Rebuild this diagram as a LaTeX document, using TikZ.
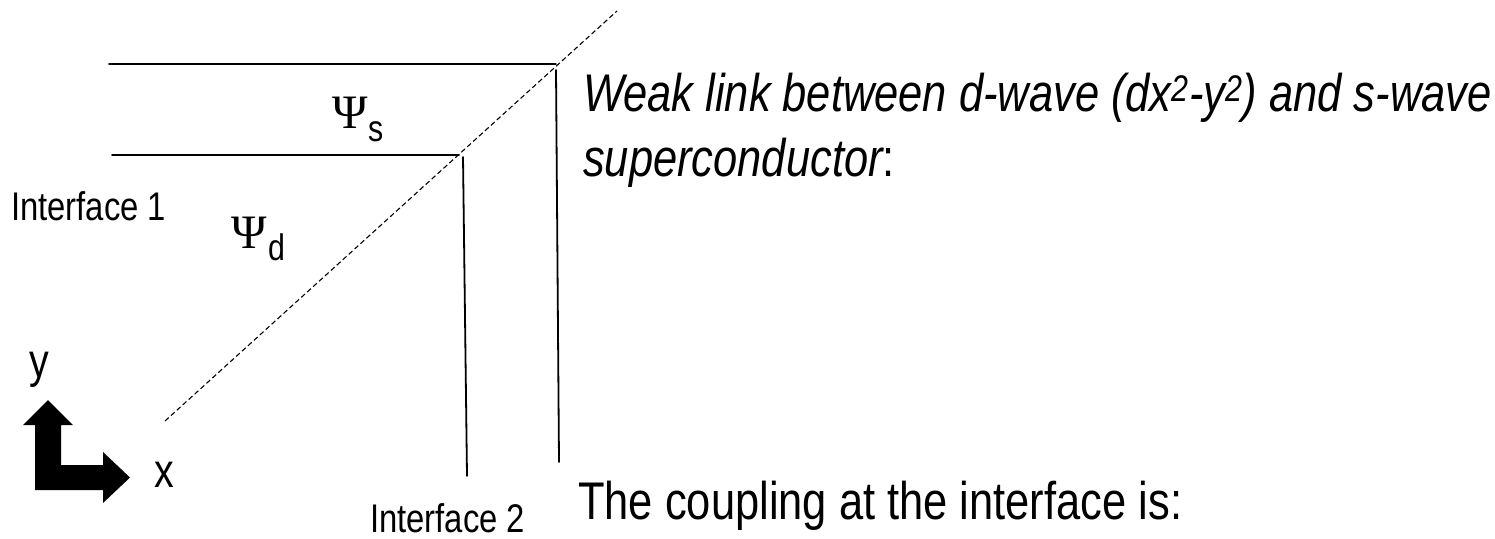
\documentclass[tikz,border=0pt]{standalone}
\usepackage{fontspec}
\setmainfont{Liberation Sans}
\newfontfamily\narrowsans[FakeStretch=0.82]{Liberation Sans}
\newfontfamily\greekserif{Liberation Serif}
\tikzset{
  boundary/.style={line width=1.8pt, line cap=round},
  junction/.style={line width=1.1pt, dash pattern=on 5pt off 3pt},
  bigtext/.style={anchor=base west, inner sep=0pt, font=\narrowsans\fontsize{53}{64}\selectfont},
  axistext/.style={anchor=base west, inner sep=0pt, font=\narrowsans\fontsize{48}{56}\selectfont},
  smalltext/.style={anchor=base west, inner sep=0pt, font=\narrowsans\fontsize{40}{48}\selectfont},
  psi/.style={anchor=base west, inner sep=0pt, font=\greekserif\fontsize{48}{52}\selectfont},
  subsc/.style={anchor=base west, inner sep=0pt, font=\narrowsans\fontsize{37}{42}\selectfont},
}
\begin{document}
\begin{tikzpicture}[x=1pt, y=-1pt]
\useasboundingbox (0,0) rectangle (1495,538);

% layer boundaries
\coordinate (t1) at (109,64);
\coordinate (t2) at (556,64);
\coordinate (m1) at (112,155);
\coordinate (m2) at (459,155);
\coordinate (v1a) at (463,157);
\coordinate (v1b) at (467,476);
\coordinate (v2a) at (556,70);
\coordinate (v2b) at (559,462);
\coordinate (da) at (165,421);
\coordinate (db) at (617,11);

\draw[boundary] (t1) -- (t2);
\draw[boundary] (m1) -- (m2);
\draw[boundary] (v1a) -- (v1b);
\draw[boundary] (v2a) -- (v2b);
\draw[junction] (da) -- (db);

% order parameters
\node[psi] (psis) at (332,128) {Ψ};
\node[subsc] (subs) at (368,141) {s};
\node[psi] (psid) at (231,248) {Ψ};
\node[subsc] (subd) at (268,260) {d};

% labels
\node[smalltext] (if1) at (11,220) {Interface 1};
\node[smalltext] (if2) at (370,532) {Interface 2};
\node[axistext] (ylab) at (29,377) {y};
\node[axistext] (xlab) at (154,487) {x};

% axis arrow
\fill (48,400) -- (73,425) -- (61,425) -- (61,465) -- (103,465) -- (103,452)
  -- (130,477.5) -- (103,503) -- (103,490) -- (35,490) -- (35,425) -- (23,425) -- cycle;

% description
\node[bigtext] (weak) at (583,111) {\itshape Weak link between d-wave (dx\textsuperscript{2}-y\textsuperscript{2}) and s-wave};
\node[bigtext] (super) at (583,176) {\itshape superconductor\upshape:};
\node[bigtext] (coup) at (578,519) {The coupling at the interface is:};
\end{tikzpicture}
\end{document}
